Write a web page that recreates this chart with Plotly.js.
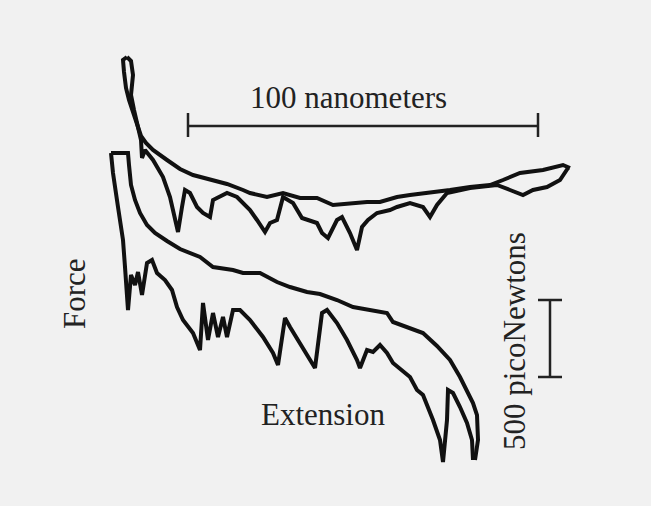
<!DOCTYPE html>
<html>
<head>
<meta charset="utf-8">
<script src="https://cdn.plot.ly/plotly-3.0.1.min.js"></script>
<style>
html,body{margin:0;padding:0;background:#f1f1f1;}
#chart{width:651px;height:506px;}
</style>
</head>
<body>
<div id="chart"></div>
<script>
// Extension (figure units, 350 units = 100 nm) and force (figure units, downward = pulling, 77 units = 500 pN)
const curveA_ext = [127,123,124,126,129,133,137,141,146,153,167,180,193,210,227,243,250,267,283,300,317,333,350,367,380,397,410,430,450,470,490,503,520,543,563,570];
const curveA_force = [57,60,72,88,100,112,124,136,143,150,160,169,175,179,184,190,193,197,193,198,198,205,203,202,202,197,195,193,190,187,185,180,173,170,165,168];

const curveB_ext = [127,131,133,132,131,134,138,141,142,145,153,163,170,175,178,182,185,190,197,203,210,213,220,227,237,250,257,265,270,277,283,293,302,308,317,322,328,337,342,350,357,362,368,377,390,397,410,423,430,437,447,470,497,510,523,533,547,560,568];
const curveB_force = [57,61,75,85,95,110,125,140,158,150,160,177,197,220,232,207,190,193,207,213,217,200,197,193,197,210,220,232,223,220,197,203,218,220,223,233,238,220,217,233,250,227,220,213,210,207,203,207,217,205,193,188,185,190,195,190,187,180,168];

const curveC_ext = [111,128,129,131,135,140,147,155,167,180,200,213,233,243,260,277,290,307,320,337,353,370,387,393,410,423,437,450,460,467,473,477,478,475];
const curveC_force = [153,153,165,185,200,213,225,233,241,249,257,267,270,273,273,282,287,292,294,300,307,310,313,322,328,333,346,360,377,390,403,415,440,460];

const curveD_ext = [111,113,118,123,125,127,128,131,135,138,142,147,152,157,165,172,177,183,188,193,200,203,208,213,218,223,227,233,240,250,263,273,278,285,290,300,310,315,322,327,337,347,357,360,367,373,380,387,393,403,410,417,423,433,440,443,447,448,453,460,467,472,473];
const curveD_force = [153,173,207,240,267,290,310,275,285,272,295,263,260,273,280,290,307,320,327,333,350,303,340,313,337,317,337,310,310,320,337,353,365,318,327,343,360,368,313,310,323,340,360,368,350,352,345,353,363,372,377,390,395,420,440,462,420,390,393,407,423,440,460];

const extBarEnds = [188, 538];   // 100 nanometers
const extBarLevel = 126;
const forceBarEnds = [300, 377]; // 500 picoNewtons
const forceBarPos = 550;

const labels = {
  ext: "100 nanometers",
  force: "500 picoNewtons",
  xName: "Extension",
  yName: "Force"
};

const lineStyle = {color: '#111111', width: 4};
const traces = [
  {x: curveA_ext, y: curveA_force},
  {x: curveB_ext, y: curveB_force},
  {x: curveC_ext, y: curveC_force},
  {x: curveD_ext, y: curveD_force}
].map(t => Object.assign(t, {type: 'scatter', mode: 'lines', line: lineStyle, hoverinfo: 'skip'}));

const serif = {family: '"Liberation Serif", "DejaVu Serif", serif', size: 31, color: '#222222'};
const barLine = {color: '#222222', width: 2.5};

const layout = {
  width: 651, height: 506,
  margin: {l: 0, r: 0, t: 0, b: 0},
  paper_bgcolor: '#f1f1f1',
  plot_bgcolor: '#f1f1f1',
  showlegend: false,
  xaxis: {range: [0, 651], visible: false, fixedrange: true},
  yaxis: {range: [506, 0], visible: false, fixedrange: true},
  shapes: [
    {type: 'line', xref: 'x', yref: 'y', x0: extBarEnds[0], x1: extBarEnds[1], y0: extBarLevel, y1: extBarLevel, line: barLine},
    {type: 'line', xref: 'x', yref: 'y', x0: extBarEnds[0], x1: extBarEnds[0], y0: extBarLevel - 13, y1: extBarLevel + 11, line: barLine},
    {type: 'line', xref: 'x', yref: 'y', x0: extBarEnds[1], x1: extBarEnds[1], y0: extBarLevel - 13, y1: extBarLevel + 11, line: barLine},
    {type: 'line', xref: 'x', yref: 'y', x0: forceBarPos, x1: forceBarPos, y0: forceBarEnds[0], y1: forceBarEnds[1], line: barLine},
    {type: 'line', xref: 'x', yref: 'y', x0: forceBarPos - 12, x1: forceBarPos + 12, y0: forceBarEnds[0], y1: forceBarEnds[0], line: barLine},
    {type: 'line', xref: 'x', yref: 'y', x0: forceBarPos - 12, x1: forceBarPos + 12, y0: forceBarEnds[1], y1: forceBarEnds[1], line: barLine}
  ],
  annotations: [
    {text: labels.ext, x: 348, y: 97, xref: 'x', yref: 'y', showarrow: false, font: serif},
    {text: labels.xName, x: 323, y: 414, xref: 'x', yref: 'y', showarrow: false, font: serif},
    {text: labels.yName, x: 74, y: 294, xref: 'x', yref: 'y', showarrow: false, font: serif, textangle: -90},
    {text: labels.force, x: 514, y: 341, xref: 'x', yref: 'y', showarrow: false, font: serif, textangle: -90}
  ]
};

Plotly.newPlot('chart', traces, layout, {displayModeBar: false, staticPlot: true});
</script>
</body>
</html>
